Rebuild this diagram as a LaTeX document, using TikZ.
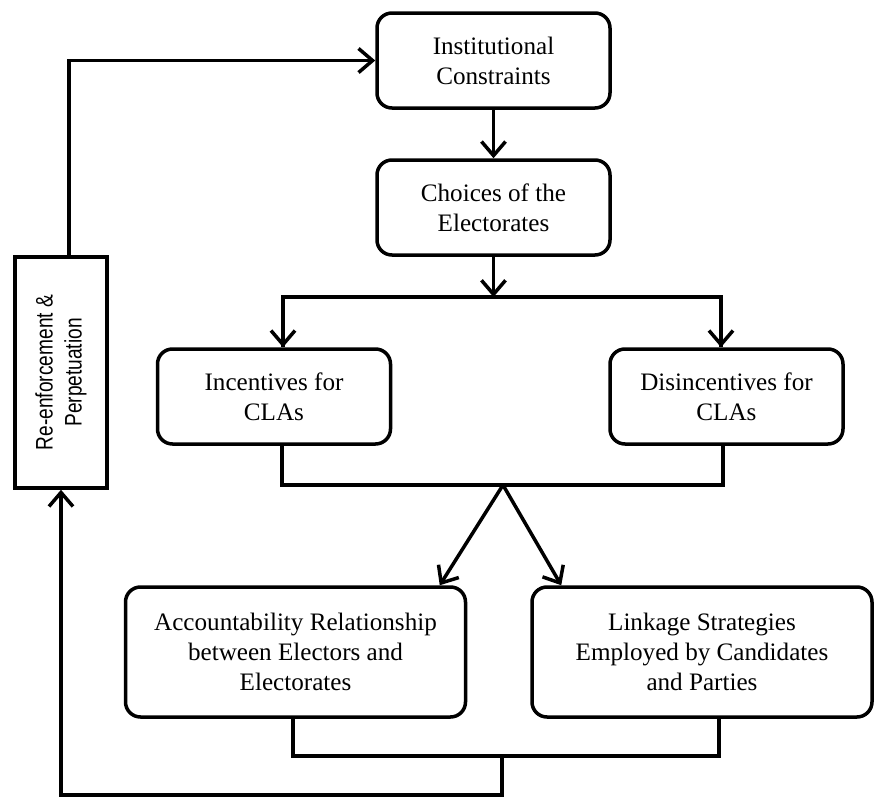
\documentclass[tikz,border=0pt]{standalone}
\usepackage{fontspec}
\setmainfont{Liberation Serif}
\setsansfont{Liberation Sans}
\newfontfamily\narrowsans{Liberation Sans}[FakeStretch=0.8]
\usepackage{tikz}
\usetikzlibrary{arrows.meta}

\begin{document}
\begin{tikzpicture}[
  box/.style={draw, line width=0.07cm, rounded corners=0.3cm, align=center,
              font=\fontsize{14.3}{17}\selectfont,
              minimum width=4.66cm, minimum height=1.9cm, inner sep=2pt},
  widebox/.style={box, minimum width=6.8cm, minimum height=2.6cm},
  loopbox/.style={draw, line width=0.07cm, align=center, rotate=90,
              font=\narrowsans\fontsize{13.6}{16.5}\selectfont,
              minimum width=4.62cm, minimum height=1.84cm},
  link/.style={line width=0.07cm},
  arr/.style={link, -{Straight Barb[length=2.8mm, width=4.8mm]}}
]
\useasboundingbox (0,0) rectangle (17.48,-15.96);

\node[box] (inst) at (9.87,-1.21) {Institutional\\Constraints};
\node[box] (choice) at (9.87,-4.15) {Choices of the\\Electorates};
\node[box] (incent) at (5.48,-7.93) {Incentives for\\CLAs};
\node[box] (disinc) at (14.53,-7.93) {Disincentives for\\CLAs};
\node[widebox] (account) at (5.91,-13.04) {Accountability Relationship\\between Electors and\\Electorates};
\node[widebox] (linkage) at (14.04,-13.04) {Linkage Strategies\\Employed by Candidates\\and Parties};
% rotated box: east is its top side, west its bottom side
\node[loopbox] (reinf) at (1.22,-7.45) {Re-enforcement \&\\Perpetuation};

\coordinate (fork) at (9.87,-5.94);
\coordinate (merge) at (10.06,-9.7);
\coordinate (collect) at (10.04,-15.12);
\coordinate (bottom) at (10.04,-15.9);

\draw[arr] ([xshift=0.16cm]reinf.east) |- (inst.west);
\draw[arr] (inst.south) -- (choice.north);
\draw[arr] (choice.south) -- (fork);
\draw[link] (fork) -| ([xshift=0.18cm]incent.north);
\draw[link] (fork) -| ([xshift=-0.11cm]disinc.north);
\draw[arr] ([xshift=0.18cm,yshift=0.3cm]incent.north) -- ([xshift=0.18cm]incent.north);
\draw[arr] ([xshift=-0.11cm,yshift=0.3cm]disinc.north) -- ([xshift=-0.11cm]disinc.north);

\draw[link] ([xshift=0.16cm]incent.south) |- (merge) -| ([xshift=-0.07cm]disinc.south);
\draw[arr] (merge) -- ([xshift=-0.55cm]account.north east);
\draw[arr] (merge) -- ([xshift=0.62cm]linkage.north west);

\draw[link] ([xshift=-0.05cm]account.south) |- (collect) -| ([xshift=0.34cm]linkage.south);
\draw[arr] (collect) -- (bottom) -| (reinf.west);
\end{tikzpicture}
\end{document}
